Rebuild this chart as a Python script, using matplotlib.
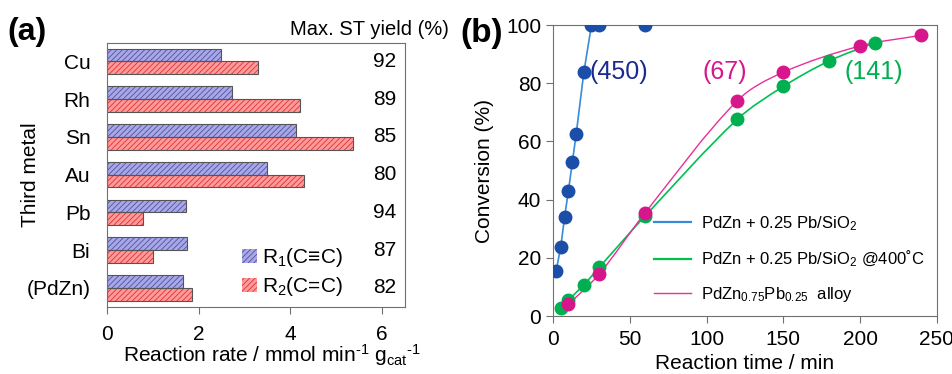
import matplotlib
matplotlib.use("Agg")
import matplotlib.pyplot as plt
from matplotlib.path import Path
from matplotlib.patches import PathPatch
import numpy as np

plt.rcParams["font.family"] = ["Liberation Sans", "DejaVu Sans"]
plt.rcParams["mathtext.fontset"] = "custom"
plt.rcParams["mathtext.rm"] = "Liberation Sans"
plt.rcParams["mathtext.it"] = "Liberation Sans"
plt.rcParams["hatch.linewidth"] = 0.6

# panel (a) data
metaux = ["Cu", "Rh", "Sn", "Au", "Pb", "Bi", "(PdZn)"]
r1_triple = [2.49, 2.72, 4.12, 3.49, 1.72, 1.74, 1.65]
r2_double = [3.29, 4.21, 5.37, 4.29, 0.79, 1.00, 1.85]
rendement_max = [92, 89, 85, 80, 94, 87, 82]

# panel (b) data
t_pb = [2, 5, 7.5, 10, 12.5, 15, 20, 25, 30, 60]
conv_pb = [15.6, 23.8, 34.1, 43.1, 52.8, 62.4, 83.7, 100, 100, 100]
t_pb400 = [5, 10, 20, 30, 60, 120, 150, 180, 210]
conv_pb400 = [2.6, 5.5, 10.7, 16.7, 34.4, 67.6, 78.9, 87.7, 94.0]
t_alliage = [10, 30, 60, 120, 150, 200, 240]
conv_alliage = [4.0, 14.4, 35.5, 74.0, 83.8, 92.8, 96.5]
activites = ["(450)", "(67)", "(141)"]


def courbe_lissee(ax, xs, ys, couleur, lw):
    """Ligne lissee (Bezier cubique entre les points, calculee en pixels)."""
    vers_pix = ax.transData
    pts = vers_pix.transform(np.column_stack([xs, ys]))
    n = len(pts)
    tangentes = []
    for i in range(n):
        d = pts[min(i + 1, n - 1)] - pts[max(i - 1, 0)]
        tangentes.append(d / np.hypot(*d))
    sommets = [pts[0]]
    codes = [Path.MOVETO]
    for i in range(n - 1):
        longueur = np.hypot(*(pts[i + 1] - pts[i])) / 3
        sommets += [pts[i] + tangentes[i] * longueur,
                    pts[i + 1] - tangentes[i + 1] * longueur, pts[i + 1]]
        codes += [Path.CURVE4] * 3
    sommets = vers_pix.inverted().transform(np.array(sommets))
    ax.add_patch(PathPatch(Path(sommets, codes), facecolor="none",
                           edgecolor=couleur, lw=lw, zorder=2))


fig = plt.figure(figsize=(9.52, 3.74), dpi=100)
gris = "#707070"

# ---------- (a)
ax1 = fig.add_axes([0.1124, 0.18, 0.313, 0.706])
y = np.arange(len(metaux))
h = 0.34
ax1.barh(y - h / 2, r1_triple, height=h, color="#A8A8E8", edgecolor="#5050A0",
         hatch="//////", lw=0, label="R$_1$(C≡C)")
ax1.barh(y + h / 2, r2_double, height=h, color="#FF9A9A", edgecolor="#E03030",
         hatch="//////", lw=0, label="R$_2$(C=C)")
ax1.barh(y - h / 2, r1_triple, height=h, fill=False, edgecolor="#555555", lw=0.8)
ax1.barh(y + h / 2, r2_double, height=h, fill=False, edgecolor="#555555", lw=0.8)
for i, r in enumerate(rendement_max):
    ax1.text(6.06, i, str(r), ha="center", va="center", fontsize=15)
ax1.set_ylim(len(metaux) - 0.5, -0.5)
ax1.set_xlim(0, 6.5)
ax1.set_xticks([0, 2, 4, 6])
ax1.set_yticks(y)
ax1.set_yticklabels(metaux)
ax1.tick_params(axis="y", length=0, labelsize=15, pad=12)
ax1.tick_params(axis="x", direction="out", length=5, color=gris, labelsize=15, pad=8)
for s in ax1.spines.values():
    s.set_color(gris)
ax1.set_ylabel("Third metal", fontsize=15)
ax1.yaxis.set_label_coords(-0.225, 0.5)
ax1.set_xlabel("Reaction rate / mmol min$^{\u20101}$ g$_{\\mathrm{cat}}$$^{\u20101}$",
               fontsize=15, labelpad=1)
ax1.xaxis.set_label_coords(0.554, -0.135)
ax1.legend(loc="lower left", bbox_to_anchor=(0.39, -0.04), frameon=False,
           fontsize=15, handlelength=0.7, handleheight=0.7, handletextpad=0.25,
           labelspacing=0.3)
ax1.text(0.88, 1.05, "Max. ST yield (%)", transform=ax1.transAxes, ha="center",
         va="center", fontsize=14.5)
fig.text(0.008, 0.915, "(a)", fontsize=23, fontweight="bold", va="center")

# ---------- (b)
ax2 = fig.add_axes([0.581, 0.155, 0.403, 0.778])
ax2.set_xlim(0, 250)
ax2.set_ylim(0, 100)
courbe_lissee(ax2, t_pb400, conv_pb400, "#00C050", 1.2)
courbe_lissee(ax2, t_alliage, conv_alliage, "#E8309A", 1.0)
ax2.plot(t_pb, conv_pb, color="#3A8AD8", lw=1.2, zorder=2)
ax2.plot(t_pb, conv_pb, "o", color="#1A4EA8", ms=9, zorder=3)
ax2.plot(t_pb400, conv_pb400, "o", color="#00B050", ms=9, zorder=3)
ax2.plot(t_alliage, conv_alliage, "o", color="#D8168C", ms=9, zorder=4)
ax2.plot([], [], color="#3A8AD8", lw=1.6, label="PdZn + 0.25 Pb/SiO$_2$")
ax2.plot([], [], color="#00C050", lw=1.6, label="PdZn + 0.25 Pb/SiO$_2$ @400˚C")
ax2.plot([], [], color="#E8309A", lw=1.0, label="PdZn$_{0.75}$Pb$_{0.25}$  alloy")
ax2.text(43, 84, activites[0], color="#1A2A90", fontsize=18, ha="center", va="center")
ax2.text(112, 84, activites[1], color="#D8168C", fontsize=18, ha="center", va="center")
ax2.text(209, 84, activites[2], color="#00B050", fontsize=18, ha="center", va="center")
ax2.set_xticks(range(0, 251, 50))
ax2.set_yticks(range(0, 101, 20))
ax2.tick_params(direction="out", length=5, color=gris, labelsize=15)
ax2.tick_params(axis="x", pad=5)
for s in ax2.spines.values():
    s.set_color(gris)
ax2.set_xlabel("Reaction time / min", fontsize=15, labelpad=4)
ax2.set_ylabel("Conversion (%)", fontsize=15, labelpad=9)
ax2.legend(loc="lower left", bbox_to_anchor=(0.225, -0.01), frameon=False, fontsize=12,
           handlelength=2.2, handletextpad=0.6, labelspacing=0.95)
fig.text(0.484, 0.91, "(b)", fontsize=24, fontweight="bold", va="center")

fig.savefig("out.png", dpi=100)
